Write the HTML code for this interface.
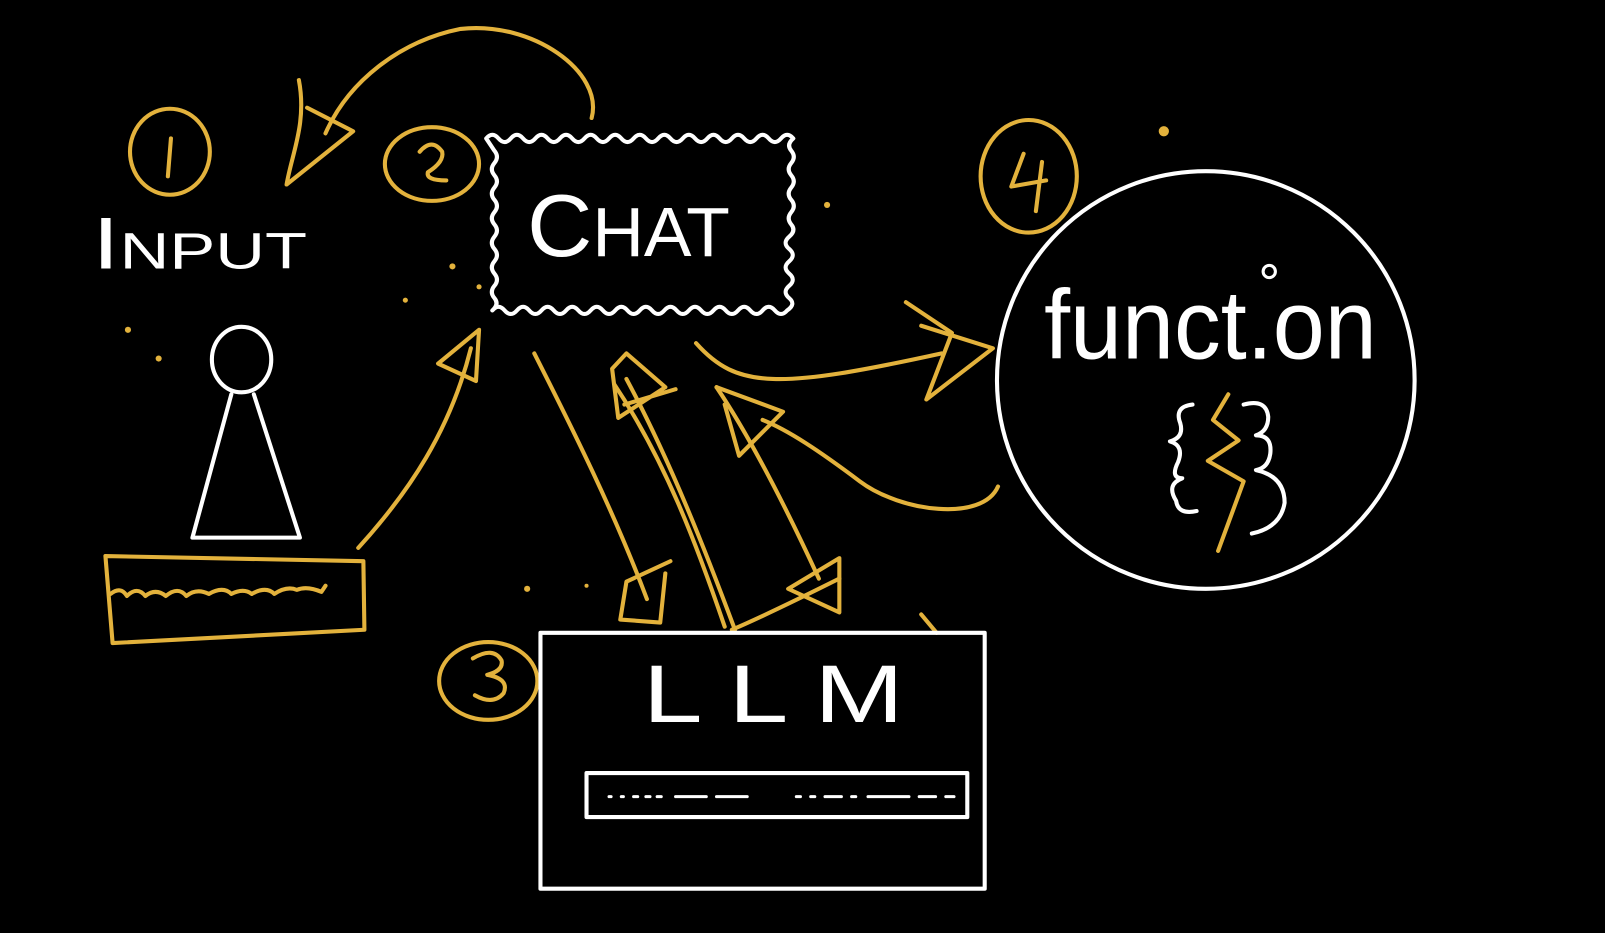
<!DOCTYPE html>
<html><head><meta charset="utf-8"><style>
html,body{margin:0;padding:0;background:#000;width:1605px;height:933px;overflow:hidden}
svg{display:block}
text{font-family:"Liberation Sans",sans-serif}
</style></head><body>
<svg width="1605" height="933" viewBox="0 0 1568 911" xmlns="http://www.w3.org/2000/svg">
<rect width="1568" height="911" fill="#000"/>
<g fill="none" stroke="#e3b23c" stroke-width="4" stroke-linecap="round" stroke-linejoin="round">
 <ellipse cx="166" cy="148" rx="39" ry="42"/>
 <path d="M167 135 L164 172"/>
 <ellipse cx="422" cy="160" rx="46" ry="36"/>
 <path d="M410 148 q12 -14 22 0 q2 10 -14 20 q-2 8 18 8"/>
 <ellipse cx="477" cy="665" rx="48" ry="38"/>
 <path d="M462 643 q20 -12 28 2 q2 10 -14 14 q22 4 16 18 q-10 12 -28 2"/>
 <ellipse cx="1005" cy="172" rx="47" ry="55"/>
 <path d="M1000 150 l-12 32 l34 -6 M1018 158 l-6 48"/>
 <path d="M578 115 C590 70 520 20 450 28 C390 40 340 80 318 130"/>
 <path d="M292 78 C300 120 285 150 280 180 L345 128 L300 105"/>
 <path d="M103 543 L355 548 L356 615 L110 628 Z"/>
 <path d="M108 580 q10 -8 16 2 q10 -10 18 0 q10 -8 20 0 q12 -10 20 0 q10 -8 22 -2 q14 -8 22 0 q12 -6 20 0 q14 -8 22 0 q12 -8 22 -4 q10 -4 24 2 l4 -6"/>
 <path d="M350 535 C400 480 440 420 460 340"/>
 <path d="M468 322 L428 355 L465 372 Z"/>
 <path d="M522 345 C560 420 600 500 632 585"/>
 <path d="M655 548 L612 568 L606 605 L645 608 L650 560"/>
 <path d="M718 615 C690 540 655 450 612 370"/>
 <path d="M708 612 C680 530 650 450 600 375"/>
 <path d="M612 345 L650 378 L604 408 L598 360 Z M610 395 L660 380"/>
 <path d="M800 565 C770 500 735 430 700 378"/>
 <path d="M700 378 L765 402 L722 445 L708 395"/>
 <path d="M820 545 L770 575 L820 598 Z"/>
 <path d="M680 335 C720 380 760 380 920 345"/>
 <path d="M885 295 L930 325 L905 390 L970 340 L900 318"/>
 <path d="M975 475 C960 510 880 500 840 470 C800 440 770 420 745 410"/>
 <path d="M715 615 C750 600 790 580 820 565 M900 600 L915 618"/>
 <path d="M1200 385 L1185 410 L1210 430 L1180 450 L1215 470 L1190 538"/>
</g>
<g fill="#e3b23c">
 <circle cx="1137" cy="128" r="5"/><circle cx="808" cy="200" r="3"/><circle cx="396" cy="293" r="2.5"/>
 <circle cx="125" cy="322" r="3"/><circle cx="155" cy="350" r="3"/><circle cx="442" cy="260" r="3"/>
 <circle cx="468" cy="280" r="2.5"/><circle cx="515" cy="575" r="3"/><circle cx="573" cy="572" r="2"/>
</g>
<g fill="none" stroke="#fff" stroke-width="4" stroke-linecap="round" stroke-linejoin="round">
 <path d="M475 135 q6 -7 12 0 t12 0 t12 0 t12 0 t12 0 t12 0 t12 0 t12 0 t12 0 t12 0 t12 0 t12 0 t12 0 t12 0 t12 0 t12 0 t12 0 t12 0 t12 0 t12 0 t12 0 t12 0 t12 0 t12 0 t12 0
  q-7 6 -2 12 t0 12 t0 12 t0 12 t0 12 t0 12 t0 12 t-2 12 t0 12 t0 12 t0 12 t0 12 t0 12 t-2 12
  q-6 7 -12 0 t-12 0 t-12 0 t-12 0 t-12 0 t-12 0 t-12 0 t-12 0 t-12 0 t-12 0 t-12 0 t-12 0 t-12 0 t-12 0 t-12 0 t-12 0 t-12 0 t-12 0 t-12 0 t-12 0 t-12 0 t-12 0 t-12 0 t-12 0
  q7 -6 2 -12 t0 -12 t0 -12 t0 -12 t0 -12 t0 -12 t0 -12 t0 -12 t0 -12 t0 -12 t0 -12 t0 -12 t0 -12 Z"/>
 <ellipse cx="236" cy="351" rx="29" ry="32"/>
 <path d="M226 385 L188 525 L293 525 L248 385"/>
 <ellipse cx="1178" cy="371" rx="204" ry="204"/>
 <path d="M1165 395 q-18 2 -12 18 q4 14 -10 18 q14 4 8 20 q-8 16 4 16 q-16 6 -6 22 q2 14 20 10"/>
 <path d="M1215 395 q22 -6 24 12 q0 14 -12 18 q16 0 14 18 q-2 14 -14 16 q28 6 28 32 q-4 24 -32 30"/>
 <circle cx="1240" cy="265" r="6" stroke-width="3"/>
 <rect x="528" y="618" width="434" height="250"/>
 <rect x="573" y="755" width="372" height="43"/>
 <path d="M595 778 h2 M607 778 h2 M619 778 h4 M631 778 h4 M642 778 h4 M660 778 h30 M700 778 h30 M778 778 h4 M792 778 h4 M806 778 h16 M832 778 h4 M848 778 h40 M898 778 h16 M924 778 h8" stroke-width="3"/>
</g>
<g fill="#fff">
 <text x="90" y="262" font-size="72" textLength="210" lengthAdjust="spacingAndGlyphs">I<tspan font-size="50">NPUT</tspan></text>
 <text x="515" y="250" font-size="86" textLength="198" lengthAdjust="spacingAndGlyphs">C<tspan font-size="68">HAT</tspan></text>
 <text x="1020" y="350" font-size="96" textLength="325" lengthAdjust="spacingAndGlyphs">funct.on</text>
 <text x="628" y="705" font-size="80" textLength="255" lengthAdjust="spacingAndGlyphs">L L M</text>
</g>
</svg>
</body></html>
